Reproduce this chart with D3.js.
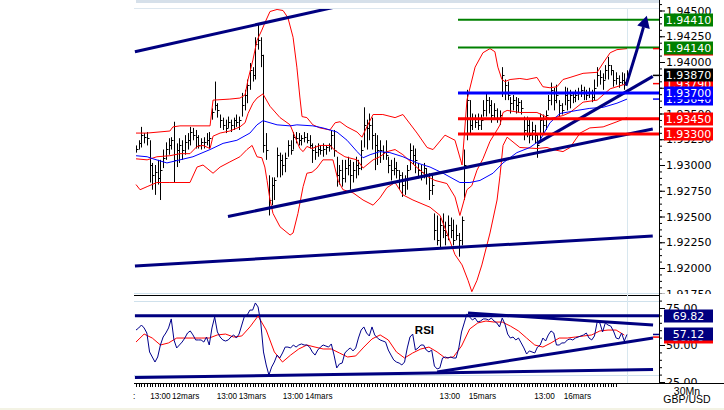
<!DOCTYPE html>
<html>
<head>
<meta charset="utf-8">
<script src="https://cdn.jsdelivr.net/npm/d3@7"></script>
<style>
  body { margin: 0; background: #fff; }
  svg { display: block; font-family: "DejaVu Sans", Verdana, sans-serif; }
</style>
</head>
<body>
<svg width="724" height="410"></svg>
<script>
// GBP/USD 30 min bars
const highs = [1.9319,1.9324,1.9337,1.9331,1.9332,1.9324,1.9302,1.9300,1.9305,1.9305,
  1.9315,1.9322,1.9326,1.9327,1.9342,1.9321,1.9326,1.9324,1.9329,1.9331,
  1.9337,1.9336,1.9334,1.9329,1.9326,1.9327,1.9331,1.9332,1.9355,1.9381,
  1.9360,1.9349,1.9346,1.9344,1.9347,1.9344,1.9346,1.9349,1.9347,1.9370,
  1.9373,1.9383,1.9399,1.9395,1.9424,1.9436,1.9424,1.9407,1.9331,1.9290,
  1.9288,1.9288,1.9317,1.9312,1.9310,1.9312,1.9324,1.9324,1.9332,1.9332,
  1.9331,1.9329,1.9332,1.9331,1.9329,1.9321,1.9319,1.9321,1.9319,1.9321,
  1.9319,1.9321,1.9334,1.9334,1.9308,1.9300,1.9305,1.9305,1.9308,1.9305,
  1.9303,1.9308,1.9305,1.9324,1.9356,1.9344,1.9350,1.9346,1.9331,1.9329,
  1.9324,1.9319,1.9324,1.9308,1.9305,1.9307,1.9303,1.9295,1.9293,1.9290,
  1.9300,1.9321,1.9319,1.9316,1.9302,1.9300,1.9302,1.9297,1.9292,1.9290,
  1.9253,1.9251,1.9249,1.9253,1.9245,1.9251,1.9249,1.9247,1.9242,1.9234,
  1.9250,1.9315,1.9373,1.9363,1.9350,1.9349,1.9350,1.9349,1.9363,1.9370,
  1.9366,1.9363,1.9360,1.9355,1.9353,1.9395,1.9383,1.9381,1.9366,1.9368,
  1.9366,1.9365,1.9363,1.9347,1.9347,1.9344,1.9342,1.9339,1.9329,1.9350,
  1.9349,1.9353,1.9368,1.9380,1.9375,1.9378,1.9363,1.9360,1.9376,1.9375,
  1.9373,1.9370,1.9373,1.9375,1.9378,1.9376,1.9373,1.9375,1.9373,1.9383,
  1.9395,1.9392,1.9389,1.9397,1.9405,1.9397,1.9392,1.9390,1.9387,1.9390,
  1.9389,1.9392];

const lows = [1.9312,1.9315,1.9317,1.9321,1.9319,1.9283,1.9276,1.9271,1.9281,1.9266,
  1.9297,1.9305,1.9310,1.9315,1.9283,1.9298,1.9302,1.9305,1.9310,1.9315,
  1.9319,1.9324,1.9316,1.9316,1.9315,1.9316,1.9319,1.9316,1.9344,1.9353,
  1.9346,1.9336,1.9334,1.9331,1.9336,1.9332,1.9334,1.9337,1.9334,1.9347,
  1.9353,1.9360,1.9373,1.9381,1.9383,1.9412,1.9395,1.9312,1.9305,1.9251,
  1.9261,1.9266,1.9288,1.9288,1.9290,1.9293,1.9308,1.9310,1.9315,1.9321,
  1.9319,1.9319,1.9322,1.9321,1.9316,1.9302,1.9305,1.9308,1.9310,1.9308,
  1.9310,1.9313,1.9315,1.9308,1.9279,1.9281,1.9279,1.9283,1.9290,1.9276,
  1.9283,1.9287,1.9290,1.9295,1.9317,1.9315,1.9324,1.9315,1.9295,1.9300,
  1.9302,1.9305,1.9305,1.9292,1.9285,1.9290,1.9287,1.9276,1.9269,1.9271,
  1.9276,1.9295,1.9300,1.9292,1.9287,1.9285,1.9287,1.9281,1.9266,1.9271,
  1.9227,1.9222,1.9220,1.9229,1.9222,1.9227,1.9229,1.9222,1.9227,1.9211,
  1.9222,1.9266,1.9324,1.9331,1.9334,1.9336,1.9334,1.9334,1.9347,1.9347,
  1.9350,1.9341,1.9344,1.9341,1.9339,1.9366,1.9363,1.9363,1.9350,1.9353,
  1.9350,1.9351,1.9349,1.9324,1.9327,1.9321,1.9324,1.9321,1.9307,1.9324,
  1.9329,1.9334,1.9353,1.9358,1.9353,1.9360,1.9347,1.9349,1.9358,1.9353,
  1.9355,1.9360,1.9361,1.9363,1.9366,1.9363,1.9363,1.9365,1.9361,1.9363,
  1.9376,1.9378,1.9373,1.9383,1.9383,1.9387,1.9376,1.9378,1.9375,1.9378,
  1.9373,1.9384];

const closes = [1.9316,1.9321,1.9329,1.9327,1.9326,1.9300,1.9290,1.9293,1.9287,1.9295,
  1.9307,1.9316,1.9319,1.9324,1.9305,1.9315,1.9319,1.9315,1.9322,1.9324,
  1.9332,1.9329,1.9327,1.9319,1.9322,1.9322,1.9324,1.9326,1.9351,1.9358,
  1.9353,1.9344,1.9339,1.9336,1.9342,1.9339,1.9344,1.9342,1.9344,1.9358,
  1.9368,1.9378,1.9392,1.9387,1.9417,1.9421,1.9407,1.9319,1.9315,1.9266,
  1.9281,1.9285,1.9310,1.9305,1.9300,1.9307,1.9319,1.9315,1.9327,1.9326,
  1.9324,1.9326,1.9327,1.9324,1.9319,1.9315,1.9313,1.9316,1.9315,1.9316,
  1.9317,1.9319,1.9329,1.9315,1.9290,1.9295,1.9287,1.9297,1.9300,1.9290,
  1.9295,1.9300,1.9297,1.9315,1.9339,1.9336,1.9339,1.9329,1.9319,1.9315,
  1.9315,1.9313,1.9310,1.9300,1.9295,1.9297,1.9295,1.9290,1.9281,1.9285,
  1.9295,1.9315,1.9310,1.9305,1.9295,1.9293,1.9297,1.9290,1.9276,1.9281,
  1.9237,1.9227,1.9242,1.9237,1.9232,1.9242,1.9237,1.9227,1.9232,1.9227,
  1.9247,1.9300,1.9363,1.9339,1.9346,1.9342,1.9339,1.9344,1.9353,1.9363,
  1.9358,1.9349,1.9353,1.9346,1.9349,1.9387,1.9378,1.9368,1.9360,1.9363,
  1.9358,1.9361,1.9355,1.9334,1.9339,1.9329,1.9334,1.9329,1.9319,1.9344,
  1.9339,1.9349,1.9363,1.9373,1.9363,1.9368,1.9358,1.9353,1.9368,1.9363,
  1.9368,1.9366,1.9368,1.9371,1.9373,1.9370,1.9368,1.9370,1.9366,1.9375,
  1.9387,1.9385,1.9383,1.9392,1.9397,1.9392,1.9383,1.9384,1.9381,1.9383,
  1.9381,1.9387];

// indicator curves as [bar, price]
const upperBand = [[0,1.9331],[4.1,1.9331],[12.5,1.9333],[13.6,1.9337],[16.2,1.9338],[27.3,1.9338],
  [28.4,1.9363],[34.6,1.9364],[38.3,1.9365],[40.2,1.9368],[41.3,1.9383],[43.1,1.9402],[44.6,1.9421],
  [46.4,1.9431],[47.5,1.9438],[49.4,1.9449],[52,1.9451],[54.2,1.9450],[56,1.9443],[57.9,1.9424],
  [59.3,1.9395],[60.4,1.9366],[61.2,1.9347],[63,1.9346],[65.2,1.9339],[67.8,1.9336],[71.5,1.9334],
  [73.4,1.9341],[75.2,1.9342],[77.8,1.9337],[81.5,1.9332],[83.3,1.9327],[85.1,1.9337],[87.4,1.9349],
  [91,1.9349],[95.5,1.9346],[98.4,1.9349],[103.6,1.9331],[107.3,1.9317],[109.5,1.9315],[113.9,1.9329],
  [117.6,1.9324],[120.2,1.9300],[122,1.9363],[125,1.9395],[127.9,1.9409],[130.5,1.9413],[132.3,1.9410],
  [133.4,1.9395],[134.9,1.9383],[136,1.9381],[137.9,1.9383],[141.5,1.9384],[144.1,1.9383],[147.8,1.9385],
  [150,1.9376],[152.6,1.9375],[155.2,1.9376],[157.4,1.9383],[160,1.9385],[164.8,1.9389],[170,1.9390],
  [172.2,1.9399],[174.8,1.9409],[177.3,1.9412],[181,1.9413]];

const middleBand = [[0,1.9306],[4.1,1.9305],[7.7,1.9308],[12.5,1.9309],[16.2,1.9311],[19.9,1.9311],
  [22.5,1.9318],[24.7,1.9319],[27.3,1.9316],[28.4,1.9328],[31,1.9331],[34.6,1.9333],[38.3,1.9337],
  [40.2,1.9341],[41.3,1.9350],[43.1,1.9360],[44.6,1.9365],[46.8,1.9369],[49.4,1.9357],[53.1,1.9346],
  [56.8,1.9339],[59.3,1.9323],[60.4,1.9316],[61.6,1.9313],[63,1.9318],[64.9,1.9316],[67.8,1.9319],
  [71.5,1.9319],[73.4,1.9314],[77,1.9308],[81.5,1.9305],[83.7,1.9297],[87.4,1.9305],[89.9,1.9308],
  [92.5,1.9313],[95.5,1.9315],[98.4,1.9310],[102.1,1.9301],[107.3,1.9289],[110.2,1.9285],[114.6,1.9282],
  [117.6,1.9269],[119.4,1.9251],[122,1.9276],[123.8,1.9280],[125.7,1.9295],[127.9,1.9306],[130.5,1.9323],
  [133.1,1.9334],[134.2,1.9339],[135.3,1.9351],[136.8,1.9353],[141.5,1.9351],[147.8,1.9351],[152.6,1.9345],
  [157.4,1.9348],[160,1.9351],[164.8,1.9361],[170,1.9363],[174.8,1.9374],[181,1.9379]];

const lowerBand = [[0,1.9281],[1.5,1.9276],[4.1,1.9279],[7.7,1.9283],[12.5,1.9283],[19.9,1.9283],
  [22.5,1.9298],[24.7,1.9300],[28.4,1.9292],[31,1.9298],[34.6,1.9303],[38.3,1.9308],[40.9,1.9315],
  [42.8,1.9319],[44.6,1.9308],[46.4,1.9307],[47.5,1.9298],[48.3,1.9285],[49.4,1.9266],[50.5,1.9253],
  [53.1,1.9240],[56.8,1.9232],[57.9,1.9234],[59.7,1.9253],[61.6,1.9279],[63,1.9292],[64.9,1.9293],
  [66.7,1.9297],[68.9,1.9305],[72.6,1.9305],[74.5,1.9285],[76.3,1.9276],[80,1.9273],[83.7,1.9266],
  [87.4,1.9261],[89.9,1.9268],[92.5,1.9278],[95.5,1.9283],[98.4,1.9271],[102.1,1.9266],[108.4,1.9259],
  [112.1,1.9251],[114.6,1.9234],[117.6,1.9213],[120.2,1.9203],[122.4,1.9188],[123.8,1.9177],[125.7,1.9188],
  [127.5,1.9203],[130.5,1.9234],[133.1,1.9266],[134.2,1.9290],[135.3,1.9319],[136.8,1.9327],[141.5,1.9317],
  [147.8,1.9316],[151.5,1.9317],[153.7,1.9315],[157.4,1.9313],[160,1.9317],[163.7,1.9331],[167.3,1.9336],
  [172.2,1.9337],[177.3,1.9342],[181,1.9346]];

const movingAvg = [[0,1.9309],[4.1,1.9308],[6.3,1.9306],[11.4,1.9302],[16.2,1.9305],[21,1.9308],
  [27.3,1.9315],[32.1,1.9321],[37.2,1.9324],[42,1.9331],[44.6,1.9339],[46.8,1.9343],[49.4,1.9341],
  [52,1.9339],[56.8,1.9338],[59.3,1.9339],[65.2,1.9338],[68.9,1.9336],[74.1,1.9332],[77.8,1.9324],
  [81.5,1.9313],[83.7,1.9307],[86.3,1.9310],[89.9,1.9313],[93.6,1.9312],[98.4,1.9308],[103.6,1.9302],
  [108.4,1.9298],[113.2,1.9292],[119.4,1.9283],[123.1,1.9283],[126.8,1.9285],[131.6,1.9292],[135.3,1.9302],
  [140.4,1.9312],[145.2,1.9317],[148.9,1.9324],[152.6,1.9341],[156.3,1.9350],[162.6,1.9353],[167.3,1.9355],
  [172.2,1.9356],[177.3,1.9360],[181,1.9364]];

// RSI, one value per bar, and its signal every third bar
const rsi = [60.1,61.5,63.5,61.5,58.1,45.3,41.9,38.5,41.9,50.0,
  55.4,58.1,61.5,67.6,53.4,48.0,50.0,52.0,54.7,58.1,
  59.5,56.8,53.4,53.4,53.4,52.0,55.4,50.0,61.5,68.9,
  58.8,55.4,53.4,52.7,53.4,55.4,56.8,54.7,57.4,63.5,
  69.6,70.3,73.6,73.6,78.4,75.7,64.9,45.3,36.5,29.7,
  35.1,38.5,43.2,41.2,44.6,48.6,48.6,48.0,50.0,48.6,
  50.0,50.7,50.0,50.0,48.6,45.3,43.2,46.6,48.6,50.0,
  49.3,48.6,50.7,43.2,34.5,37.2,37.8,44.6,46.6,48.0,
  46.0,48.0,54.7,60.1,62.2,58.1,56.1,62.2,56.8,54.7,
  53.4,52.7,52.0,46.6,43.2,39.9,38.5,37.8,36.5,38.5,
  48.0,55.4,57.4,46.6,48.0,50.0,50.0,46.6,45.3,46.6,
  35.8,33.8,34.5,41.2,41.9,41.2,41.9,41.2,41.2,48.0,
  58.8,64.9,71.0,68.9,66.9,68.2,65.5,66.2,67.6,67.6,
  66.9,68.2,66.2,64.9,62.2,68.2,64.2,57.4,54.7,55.4,
  53.4,54.7,51.4,48.0,43.9,46.0,45.3,44.6,48.6,50.0,
  54.7,52.7,56.8,59.5,58.1,50.0,50.0,51.4,51.4,53.4,
  54.1,53.4,54.7,55.4,56.1,56.8,58.1,54.7,53.4,56.1,
  65.5,64.9,58.8,64.9,63.5,62.8,59.5,54.7,54.1,58.1,
  52.7,57.12];

const rsiSignal = [52.0,57.4,54.7,50.0,51.4,54.7,54.7,54.7,54.7,54.7,
  56.8,57.4,55.4,56.1,62.2,69.6,60.1,45.3,38.5,43.2,
  47.3,50.0,48.6,47.3,47.3,44.6,41.9,42.6,48.6,54.1,
  56.8,53.4,45.3,41.2,44.6,47.3,48.6,45.3,41.2,41.9,
  49.3,60.8,64.9,66.2,65.5,65.5,62.8,59.5,54.7,50.0,
  48.6,51.4,54.7,54.7,55.4,56.1,56.8,59.5,60.1,60.1,
  56.7];

// hand drawn annotations, [bar, value]
const priceTrends = [
  [[-0.4,1.9410],[74.5,1.9454]],
  [[33.9,1.9250],[190.5,1.9335]],
  [[-0.4,1.9202],[190.5,1.9231]],
  [[147.8,1.9321],[190.5,1.9386]]
];
const arrowPts = [[180.6,1.9377],[184.7,1.9412],[188.3,1.9445]];
const priceLevels = [1.9441, 1.9414, 1.9370, 1.9345, 1.9330];
const levelStart = 118.7;

const rsiTop = 69.82;
const rsiTrends = [
  [[-0.4,rsiTop],[193,rsiTop]],
  [[122.4,71.6],[190.6,63.5]],
  [[111,31.8],[190.6,54.7]],
  [[-0.4,28.0],[190.6,33.4]]
];

const priceTicks = [1.9175,1.92,1.9225,1.925,1.9275,1.93,1.9325,1.935,1.9375,1.94,1.9425,1.945];
const rsiTicks = [25, 50, 75];
const timeTicks = [-0.7, 9.0, 18.3, 33.5, 42.9, 57.9, 67.4, 115.7, 127.7, 150.6, 162.7];
const timeLabels = [":", "13:00", "12mars", "13:00", "13mars", "13:00", "14mars", "13:00", "15mars", "13:00", "16mars"];

const navy = "#000080";

const svg = d3.select("svg");
const x = d3.scaleLinear().domain([0, 181]).range([136, 627]);
const y = d3.scaleLinear().domain([1.92, 1.94]).range([268, 62]);
const yr = d3.scaleLinear().domain([25, 75]).range([382, 308]);

const defs = svg.append("defs");
function clip(id, x0, y0, w, h) {
  defs.append("clipPath").attr("id", id)
    .append("rect").attr("x", x0).attr("y", y0).attr("width", w).attr("height", h);
}
clip("cp", 134, 9, 525, 285);
clip("cr", 134, 296, 525, 87);
clip("ca", 659, 0, 65, 294);
clip("cra", 659, 296, 65, 88);

// frame
svg.append("rect").attr("x", 136).attr("y", 0).attr("width", 523).attr("height", 3).attr("fill", "#d6e0ea");
svg.append("line").attr("x1", 134).attr("x2", 659).attr("y1", 8.5).attr("y2", 8.5).attr("stroke", "#dde7ef");
svg.append("line").attr("x1", 134).attr("x2", 659).attr("y1", 293.5).attr("y2", 293.5).attr("stroke", "#cfe1ec");
svg.append("line").attr("x1", 134).attr("x2", 659).attr("y1", 295.5).attr("y2", 295.5).attr("stroke", "#000");
[80, 30].forEach(v => {
  svg.append("line").attr("x1", 134).attr("x2", 659)
    .attr("y1", Math.round(yr(v)) + 0.5).attr("y2", Math.round(yr(v)) + 0.5).attr("stroke", "#cfe1ec");
});
svg.append("line").attr("x1", Math.round(x(181)) + 0.5).attr("x2", Math.round(x(181)) + 0.5)
  .attr("y1", 9).attr("y2", 383).attr("stroke", "#d8e7ef");
svg.append("rect").attr("x", 0).attr("y", 408).attr("width", 724).attr("height", 2).attr("fill", "#f3f3e4");

// price panel
const pp = svg.append("g").attr("clip-path", "url(#cp)");
const bars = pp.append("g").attr("stroke", "#000").attr("stroke-width", 1);
highs.forEach((h, i) => {
  const xi = Math.round(x(i)) + 0.5;
  bars.append("line").attr("x1", xi).attr("x2", xi).attr("y1", y(h)).attr("y2", y(lows[i]));
  bars.append("line").attr("x1", xi).attr("x2", xi + 2)
    .attr("y1", Math.round(y(closes[i])) + 0.5).attr("y2", Math.round(y(closes[i])) + 0.5);
});

const pline = d3.line().x(d => x(d[0])).y(d => y(d[1]));
[[upperBand, "#ff0000"], [middleBand, "#ff0000"], [lowerBand, "#ff0000"], [movingAvg, "#0000ff"]].forEach(([data, c]) => {
  pp.append("path").attr("d", pline(data)).attr("fill", "none").attr("stroke", c).attr("stroke-width", 1);
});

const levelColors = ["#008000", "#008000", "#0000ff", "#ff0000", "#ff0000"];
const levelWidths = [2, 2, 3, 3, 3];
priceLevels.forEach((v, k) => {
  svg.append("line").attr("x1", x(levelStart)).attr("x2", 659)
    .attr("y1", y(v)).attr("y2", y(v))
    .attr("stroke", levelColors[k]).attr("stroke-width", levelWidths[k]);
});

priceTrends.forEach(t => {
  pp.append("path").attr("d", pline(t)).attr("fill", "none").attr("stroke", navy).attr("stroke-width", 3);
});

// arrow
const ap = arrowPts.map(d => [x(d[0]), y(d[1])]);
const tip = ap[ap.length - 1], prev = ap[ap.length - 2];
const dx = tip[0] - prev[0], dy = tip[1] - prev[1], len = Math.hypot(dx, dy);
const ux = dx / len, uy = dy / len;
const base = [tip[0] - ux * 12, tip[1] - uy * 12];
svg.append("path").attr("d", d3.line()([...ap.slice(0, -1), base]))
  .attr("fill", "none").attr("stroke", navy).attr("stroke-width", 3);
svg.append("path")
  .attr("d", `M${tip[0]},${tip[1]}L${base[0] - uy * 6.5},${base[1] + ux * 6.5}L${base[0] + uy * 6.5},${base[1] - ux * 6.5}Z`)
  .attr("fill", navy);

// RSI panel
const rp = svg.append("g").attr("clip-path", "url(#cr)");
const rline = d3.line().x(d => x(d[0])).y(d => yr(d[1]));
rsiTrends.forEach(t => {
  rp.append("path").attr("d", rline(t)).attr("fill", "none").attr("stroke", navy).attr("stroke-width", 3);
});
rp.append("path").attr("d", d3.line().x((d, i) => x(i * 3)).y(d => yr(d))(rsiSignal))
  .attr("fill", "none").attr("stroke", "#ff0000").attr("stroke-width", 1);
rp.append("path").attr("d", d3.line().x((d, i) => x(i)).y(d => yr(d))(rsi))
  .attr("fill", "none").attr("stroke", "#00008b").attr("stroke-width", 1);
rp.append("text").attr("x", x(102.8)).attr("y", yr(57.7))
  .attr("font-family", "Liberation Sans, Arial, sans-serif").attr("font-weight", "bold")
  .attr("font-size", 11.5).attr("fill", "#000").text("RSI");

// right axes
function styleAxis(g) {
  g.select(".domain").remove();
  g.selectAll("text").attr("font-family", "DejaVu Sans, Verdana, sans-serif").attr("font-size", 11).attr("fill", "#000");
}
const pa = svg.append("g").attr("clip-path", "url(#ca)");
pa.append("g").attr("transform", "translate(659,0)")
  .call(d3.axisRight(y).tickValues(d3.range(1.9150, 1.9465, 0.000625)).tickSize(3).tickFormat(""))
  .call(styleAxis);
pa.append("g").attr("transform", "translate(659,0)")
  .call(d3.axisRight(y).tickValues(priceTicks).tickSize(6).tickPadding(1).tickFormat(d3.format(".5f")))
  .call(styleAxis);

const ra = svg.append("g").attr("clip-path", "url(#cra)");
ra.append("g").attr("transform", "translate(659,0)")
  .call(d3.axisRight(yr).tickValues(d3.range(20, 90, 5)).tickSize(3).tickFormat(""))
  .call(styleAxis);
ra.append("g").attr("transform", "translate(659,0)")
  .call(d3.axisRight(yr).tickValues(rsiTicks).tickSize(6).tickPadding(1).tickFormat(d3.format(".2f")))
  .call(styleAxis);

svg.append("line").attr("x1", 659.5).attr("x2", 659.5).attr("y1", 0).attr("y2", 384).attr("stroke", "#000");
svg.append("line").attr("x1", 134).attr("x2", 724).attr("y1", 383.5).attr("y2", 383.5).attr("stroke", "#000");

// value tags
function tag(cy, label, fill) {
  svg.append("rect").attr("x", 664).attr("y", Math.round(cy) - 6.5).attr("width", 49).attr("height", 13).attr("fill", fill);
  svg.append("text").attr("x", 688.5).attr("y", Math.round(cy) + 4).attr("text-anchor", "middle")
    .attr("font-size", 11).attr("fill", "#fff").text(label);
}
function marker(cy, c) {
  svg.append("line").attr("x1", 653).attr("x2", 659).attr("y1", cy).attr("y2", cy).attr("stroke", c).attr("stroke-width", 1.5);
}
const f5 = d3.format(".5f"), f2 = d3.format(".2f");
const lastUp = upperBand[upperBand.length - 1][1];
const lastMid = middleBand[middleBand.length - 1][1];
const lastMa = movingAvg[movingAvg.length - 1][1];
const lastClose = closes[closes.length - 1];
marker(y(lastUp), "#ff0000");
marker(y(lastClose), "#000");
marker(y(lastMid), "#ff0000");
marker(y(lastMa), "#0000ff");
tag(y(lastUp), f5(lastUp), "#ff0000");
tag(y(priceLevels[1]), f5(priceLevels[1]), "#008000");
tag(y(priceLevels[0]), f5(priceLevels[0]), "#008000");
tag(y(lastMid), f5(lastMid), "#ff0000");
tag(y(lastClose), f5(lastClose), "#000");
tag(y(lastMa), f5(lastMa), "#0000ff");
tag(y(priceLevels[2]), f5(priceLevels[2]), "#0000ff");
tag(y(priceLevels[3]), f5(priceLevels[3]), "#ff0000");
tag(y(priceLevels[4]), f5(priceLevels[4]), "#ff0000");

const lastRsi = rsi[rsi.length - 1], lastSig = rsiSignal[rsiSignal.length - 1];
marker(yr(lastRsi), "#00008b");
marker(yr(lastSig) + 2, "#ff0000");
tag(yr(lastSig) + 2, f2(lastSig), "#ff0000");
tag(yr(lastRsi), f2(lastRsi), navy);
tag(yr(rsiTop), f2(rsiTop), navy);

// time axis
const xt = svg.append("g");
d3.range(0, 178).forEach(i => {
  const xi = Math.round(x(i)) + 0.5;
  xt.append("line").attr("x1", xi).attr("x2", xi).attr("y1", 384).attr("y2", 387).attr("stroke", "#000");
});
timeTicks.forEach((t, k) => {
  xt.append("text").attr("x", x(t)).attr("y", 399).attr("text-anchor", "middle")
    .attr("font-family", "Liberation Sans, Arial, sans-serif").attr("font-size", 8.2)
    .attr("fill", "#000").text(timeLabels[k]);
});

svg.append("text").attr("x", 687).attr("y", 395).attr("text-anchor", "middle")
  .attr("font-family", "Liberation Sans, Arial, sans-serif").attr("font-size", 10.5).text("30Mn");
svg.append("text").attr("x", 687).attr("y", 403).attr("text-anchor", "middle")
  .attr("font-family", "Liberation Sans, Arial, sans-serif").attr("font-size", 10.5).text("GBP/USD");
</script>
</body>
</html>
